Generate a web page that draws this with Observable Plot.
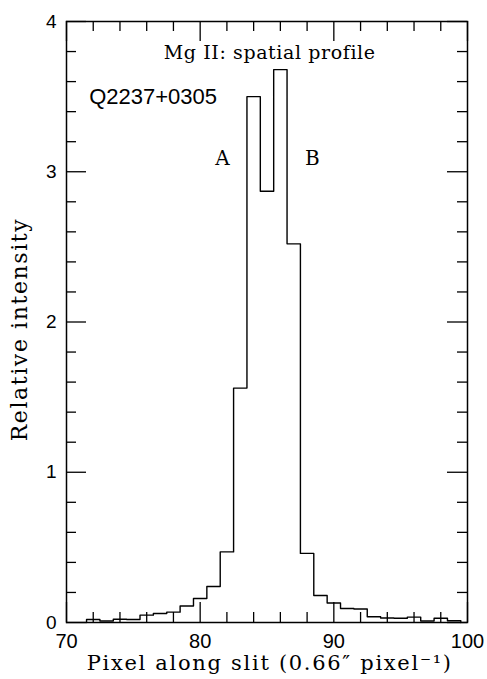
<!DOCTYPE html>
<html>
<head>
<meta charset="utf-8">
<script src="https://cdn.jsdelivr.net/npm/d3@7"></script>
<script src="https://cdn.jsdelivr.net/npm/@observablehq/plot@0.6"></script>
<style>
  html, body { margin: 0; padding: 0; background: #fff; }
  #chart svg { display: block; }
</style>
</head>
<body>
<div id="chart"></div>
<script>
// Data: pixel bins (centres) and relative intensity
const pixels = [72, 73, 74, 75, 76, 77, 78, 79, 80, 81, 82, 83, 84, 85, 86, 87, 88, 89, 90, 91, 92, 93, 94, 95, 96, 97, 98, 99];
const intensity = [0.02, 0.01, 0.022, 0.02, 0.049, 0.06, 0.069, 0.11, 0.16, 0.24, 0.47, 1.56, 3.50, 2.87, 3.68, 2.52, 0.46, 0.18, 0.13, 0.093, 0.09, 0.038, 0.03, 0.028, 0.036, 0.01, 0.028, 0.012];
const xMajor = [70, 80, 90, 100];
const xMinor = [72, 74, 76, 78, 82, 84, 86, 88, 92, 94, 96, 98];
const yMajor = [0, 1, 2, 3, 4];
const yMinor = [0.2, 0.4, 0.6, 0.8, 1.2, 1.4, 1.6, 1.8, 2.2, 2.4, 2.6, 2.8, 3.2, 3.4, 3.6, 3.8];
const labels = [
  {x: 81.67, y: 3.09, text: "A"},
  {x: 88.4, y: 3.09, text: "B"}
];
const title = {x: 85.2, y: 3.79, text: "Mg II: spatial profile"};
const object = {x: 71.7, y: 3.5, text: "Q2237+0305"};
const xTitle = {x: 85.2, y: 0, text: "Pixel along slit (0.66\u2033 pixel\u207B\u00B9)"};
const yTitle = {x: 70, y: 1.95, text: "Relative intensity"};

// histogram outline built from bin edges
const halfWidth = 0.5;
const outline = [{x: pixels[0] - halfWidth, y: 0}];
pixels.forEach((p, i) => {
  outline.push({x: p - halfWidth, y: intensity[i]});
  outline.push({x: p + halfWidth, y: intensity[i]});
});
outline.push({x: pixels[pixels.length - 1] + halfWidth, y: 0});

const W = 487, H = 679;
const mL = 66, mR = 20, mT = 21, mB = 57;
const frameW = W - mL - mR, frameH = H - mT - mB;
const major = 20, minor = 10;
const serif = "DejaVu Serif";
const sans = "Liberation Sans";

const chart = Plot.plot({
  width: W, height: H,
  marginLeft: mL, marginRight: mR, marginTop: mT, marginBottom: mB,
  x: {domain: [70, 100]},
  y: {domain: [0, 4]},
  style: {background: "#fff", color: "#000"},
  marks: [
    // ticks, inward on all four sides
    Plot.tickX(xMajor, {x: d => d, insetTop: frameH - major, stroke: "#000", strokeWidth: 1.3}),
    Plot.tickX(xMinor, {x: d => d, insetTop: frameH - minor, stroke: "#000", strokeWidth: 1.3}),
    Plot.tickX(xMajor, {x: d => d, insetBottom: frameH - major, stroke: "#000", strokeWidth: 1.3}),
    Plot.tickX(xMinor, {x: d => d, insetBottom: frameH - minor, stroke: "#000", strokeWidth: 1.3}),
    Plot.tickY(yMajor, {y: d => d, insetRight: frameW - major, stroke: "#000", strokeWidth: 1.3}),
    Plot.tickY(yMinor, {y: d => d, insetRight: frameW - minor, stroke: "#000", strokeWidth: 1.3}),
    Plot.tickY(yMajor, {y: d => d, insetLeft: frameW - major, stroke: "#000", strokeWidth: 1.3}),
    Plot.tickY(yMinor, {y: d => d, insetLeft: frameW - minor, stroke: "#000", strokeWidth: 1.3}),
    Plot.axisX({ticks: xMajor, tickSize: 0, tickPadding: 11, fontSize: 20, fontFamily: sans, label: null, tickFormat: d => String(d)}),
    Plot.axisY({ticks: yMajor, tickSize: 0, tickPadding: 10, fontSize: 19, fontFamily: sans, label: null, tickFormat: d => String(d)}),
    Plot.frame({stroke: "#000", strokeWidth: 1.5}),
    Plot.line(outline, {x: "x", y: "y", stroke: "#000", strokeWidth: 1.4}),
    Plot.text(labels, {x: "x", y: "y", text: "text", fontFamily: serif, fontSize: 20, fill: "#000"}),
    Plot.text([title], {x: "x", y: "y", text: "text", fontFamily: serif, fontSize: 19, fill: "#000"}),
    Plot.text([object], {x: "x", y: "y", text: "text", fontFamily: sans, fontSize: 22, textAnchor: "start", fill: "#000"}),
    Plot.text([xTitle], {x: "x", y: "y", text: "text", dy: 41, fontFamily: serif, fontSize: 21, fill: "#000"}),
    Plot.text([yTitle], {x: "x", y: "y", text: "text", rotate: -90, dx: -47, fontFamily: serif, fontSize: 22, fill: "#000"})
  ]
});
// letter spacing to match the wide typeface of the original
d3.select(chart).selectAll("text").each(function () {
  const t = this.textContent;
  if (t === xTitle.text) d3.select(this).attr("letter-spacing", "1.7px");
  if (t === yTitle.text) d3.select(this).attr("letter-spacing", "1.6px");
  if (t === title.text) d3.select(this).attr("letter-spacing", "0.6px");
});
document.getElementById("chart").appendChild(chart);
</script>
</body>
</html>
